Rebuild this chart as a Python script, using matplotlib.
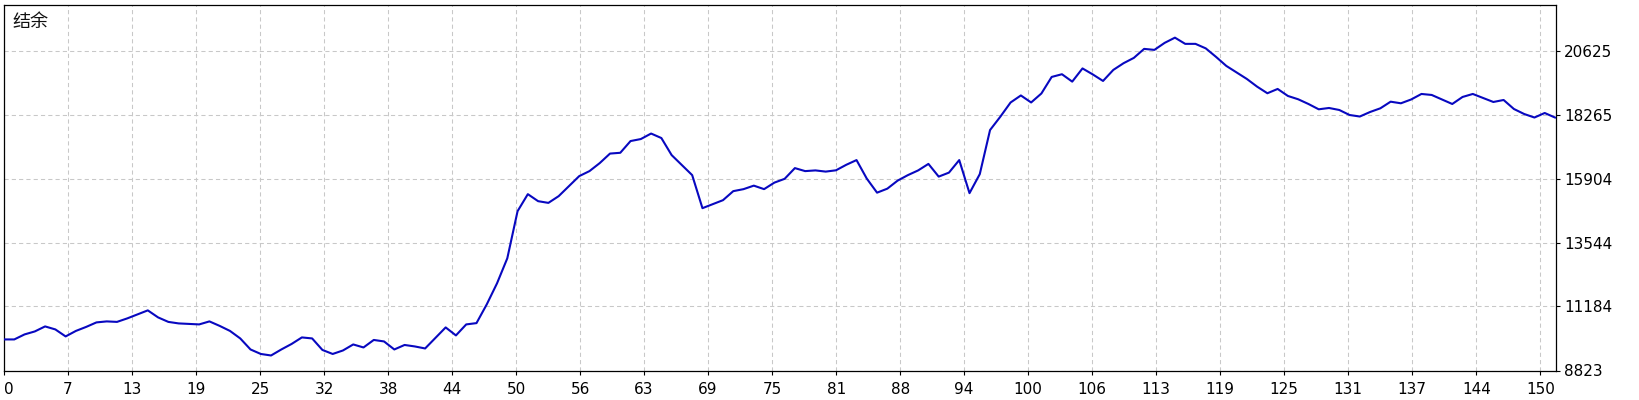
import numpy as np
import matplotlib
matplotlib.use('Agg')
import matplotlib.pyplot as plt

# balance curve, one value per deal
balance = [
    9969, 9969, 10154, 10264, 10449, 10338, 10080, 10283, 10431, 10597,
    10634, 10616, 10745, 10893, 11041, 10782, 10616, 10560, 10542, 10523,
    10634, 10468, 10283, 10006, 9599, 9433, 9377, 9599, 9802, 10043,
    10006, 9581, 9433, 9562, 9784, 9673, 9950, 9895, 9599, 9765,
    9710, 9636, 10024, 10412, 10117, 10523, 10571, 11262, 12039, 12962,
    14700, 15328, 15069, 15006, 15254, 15624, 15993, 16178, 16474, 16825,
    16854, 17287, 17361, 17564, 17398, 16769, 16400, 16030, 14811, 14958,
    15106, 15439, 15513, 15642, 15513, 15753, 15893, 16289, 16178, 16204,
    16160, 16208, 16411, 16585, 15901, 15383, 15531, 15827, 16030, 16204,
    16444, 15975, 16123, 16585, 15365, 16067, 17693, 18185, 18710, 18969,
    18710, 19042, 19652, 19752, 19479, 19966, 19745, 19504, 19911, 20159,
    20355, 20687, 20650, 20909, 21101, 20872, 20872, 20706, 20392, 20059,
    19819, 19578, 19294, 19050, 19209, 18950, 18828, 18654, 18458, 18507,
    18433, 18248, 18192, 18359, 18495, 18739, 18680, 18821, 19024, 18987,
    18821, 18654, 18913, 19024, 18876, 18728, 18802, 18470, 18285, 18155,
    18322, 18155,
]

xlabels = ['0', '7', '13', '19', '25', '32', '38', '44', '50', '56', '63', '69',
           '75', '81', '88', '94', '100', '106', '113', '119', '125', '131',
           '137', '144', '150']
yticks = [8823, 11184, 13544, 15904, 18265, 20625]

title = '结余'

fig = plt.figure(figsize=(16.4, 4), dpi=100)
ax = fig.add_axes([4/1640, 29.5/400, 1552/1640, 366/400])

x = np.arange(len(balance))
ax.plot(x, balance, color='#0808c0', lw=1.5, zorder=3)

xmax = 151.1
step = 6.232
ax.set_xlim(0, xmax)
ax.set_ylim(8823, 22324)

ax.set_xticks(np.arange(len(xlabels)) * step)
ax.set_xticklabels(xlabels)
ax.set_yticks(yticks)
ax.set_yticklabels([str(v) for v in yticks])
ax.yaxis.tick_right()

ax.tick_params(axis='both', direction='out', length=3, width=0.8,
               labelsize=11, colors='black', pad=3)
ax.tick_params(axis='x', pad=5)
lab = ax.get_xticklabels()
lab[0].set_horizontalalignment('left')

ax.grid(True, color='#c8c8c8', lw=0.75, linestyle=(0, (4, 3)), zorder=0)
for s in ax.spines.values():
    s.set_color('black')
    s.set_linewidth(0.9)

ax.text(0.0055, 0.978, title, transform=ax.transAxes, ha='left', va='top',
        fontsize=13, family=['Noto Sans CJK SC', 'DejaVu Sans'], color='#111111')

fig.savefig('out.png', dpi=100)
